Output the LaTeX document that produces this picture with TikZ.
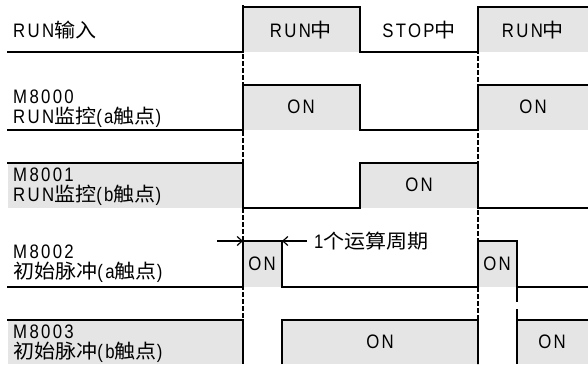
\documentclass[tikz,border=0pt]{standalone}
\usepackage{fontspec}
\setmainfont{Liberation Sans}[FakeStretch=0.86,LetterSpace=12]
\newfontfamily\cjk{Noto Sans CJK SC}[FakeStretch=1.08]
\usetikzlibrary{arrows.meta}
\definecolor{sigfill}{RGB}{229,229,229}
\newcommand{\zh}[1]{{\cjk #1}}

\begin{document}
\begin{tikzpicture}[
  x=1pt, y=-1pt,
  font=\fontsize{19.5}{19.5}\selectfont,
  wave/.style  = {line width=2pt, line join=miter},
  hi/.style    = {fill=sigfill},
  guide/.style = {line width=2pt, dash pattern=on 5pt off 2pt},
  lbl/.style   = {anchor=north west, align=left, inner sep=0pt},
  txt/.style   = {inner sep=0pt},
  dim/.style   = {-{Straight Barb[length=5pt,width=9pt]}, line width=1.2pt},
]
\useasboundingbox (0,0) rectangle (588,364);

% ---- grey (ON) areas -------------------------------------------------------
\fill[hi] (243,7)   rectangle (360,52);
\fill[hi] (478,7)   rectangle (588,52);
\fill[hi] (243,85)  rectangle (360,130);
\fill[hi] (478,85)  rectangle (588,130);
\fill[hi] (8,163)   rectangle (243,208);
\fill[hi] (360,163) rectangle (478,208);
\fill[hi] (243,241) rectangle (282,287);
\fill[hi] (478,241) rectangle (517,287);
\fill[hi] (8,320)   rectangle (243,364);
\fill[hi] (282,320) rectangle (478,364);
\fill[hi] (517,320) rectangle (588,364);

% ---- guide lines -----------------------------------------------------------
\draw[guide] (243,5) -- (243,364);
\draw[guide] (478,7) -- (478,364);

% ---- waveforms -------------------------------------------------------------
\draw[wave] (7,52) -- (243,52) -- (243,5) -- (243,7) -- (360,7) -- (360,52)
            -- (478,52) -- (478,7) -- (588,7);
\draw[wave] (7,130) -- (243,130) -- (243,85) -- (360,85) -- (360,130)
            -- (478,130) -- (478,85) -- (588,85);
\draw[wave] (7,163) -- (243,163) -- (243,208) -- (360,208) -- (360,163)
            -- (478,163) -- (478,208) -- (588,208);
\draw[wave] (7,287) -- (243,287) -- (243,241) -- (282,241) -- (282,287)
            -- (478,287) -- (478,241) -- (517,241) -- (517,302);
\draw[wave] (517,287) -- (588,287);
\draw[wave] (7,320) -- (243,320) -- (243,364);
\draw[wave] (282,364) -- (282,320) -- (478,320) -- (478,364);
\draw[wave] (517,309) -- (517,364);
\draw[wave] (517,320) -- (588,320);

% ---- signal names ----------------------------------------------------------
\node[txt, anchor=west] (runin) at (13,30) {RUN\zh{输入}};
\node[lbl] (m8000) at (13,90)  {M8000\\RUN\zh{监控}(a\zh{触点})};
\node[lbl] (m8001) at (13,168) {M8001\\RUN\zh{监控}(b\zh{触点})};
\node[lbl] (m8002) at (13,245) {M8002\\\zh{初始脉冲}(a\zh{触点})};
\node[lbl] (m8003) at (13,325) {M8003\\\zh{初始脉冲}(b\zh{触点})};

% ---- states ----------------------------------------------------------------
\node[txt] (run1)  at (301,30)  {RUN\zh{中}};
\node[txt] (stop)  at (419,30)  {STOP\zh{中}};
\node[txt] (run2)  at (533,30)  {RUN\zh{中}};
\node[txt] (on1)   at (301,107) {ON};
\node[txt] (on2)   at (533,107) {ON};
\node[txt] (on3)   at (419,185) {ON};
\node[txt] (on4)   at (262,264) {ON};
\node[txt] (on5)   at (497,264) {ON};
\node[txt] (on6)   at (380,342) {ON};
\node[txt] (on7)   at (552,342) {ON};

% ---- one scan --------------------------------------------------------------
\coordinate (scanl) at (217,241);
\coordinate (scanr) at (307,241);
\draw[dim] (scanl) -- (243,241);
\draw[dim] (scanr) -- (282,241);
\node[txt, anchor=west] (scan) at (314,241) {1\zh{个运算周期}};

\end{tikzpicture}
\end{document}
